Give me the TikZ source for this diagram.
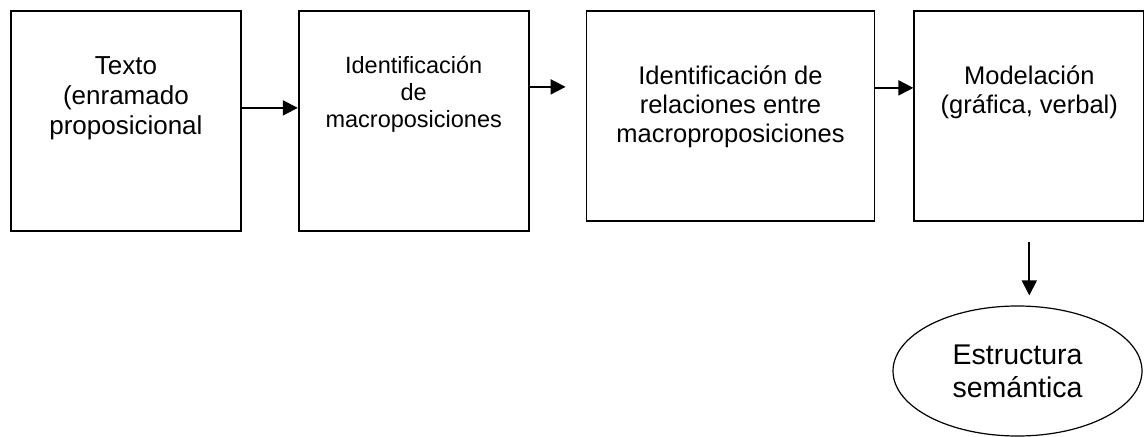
\documentclass[tikz,border=0pt]{standalone}
\usepackage{fontspec}
\setmainfont{Liberation Sans}
\usetikzlibrary{arrows.meta,positioning,shapes.geometric}
\tikzset{
  box/.style={rectangle, draw=black, line width=0.9pt, minimum width=115pt, minimum height=110pt, inner sep=0pt},
  widebox/.style={box, minimum width=144pt, minimum height=105pt},
  boxtext/.style={align=center, inner sep=0pt, anchor=north},
  ellip/.style={ellipse, draw=black, line width=0.6pt, minimum width=124.5pt, minimum height=65pt, align=center, inner sep=0pt},
  arrow/.style={-{Triangle[length=7.5pt,width=7.5pt]}, line width=0.9pt}
}
\begin{document}
\begin{tikzpicture}[x=0.5pt, y=-0.5pt]
\useasboundingbox (0,0) rectangle (1144,437);
\node[box, anchor=north west] (texto) at (10,10) {};
\node[box, right=28pt of texto.north east, anchor=north west] (ident) {};
\node[widebox, right=28pt of ident.north east, anchor=north west] (relac) {};
\node[box, minimum height=105pt, right=19pt of relac.north east, anchor=north west] (model) {};
\node[ellip, font=\fontsize{14.25pt}{16.5pt}\selectfont] (estr) at (1017.5,371) {Estructura\\semántica};
% box texts
\node[boxtext, font=\fontsize{13pt}{15pt}\selectfont, below=23pt of texto.north] (textot) {Texto\\(enramado\\proposicional};
\node[boxtext, font=\fontsize{11.75pt}{13.5pt}\selectfont, below=23pt of ident.north] (identt) {Identificación\\de\\macroposiciones};
\node[boxtext, font=\fontsize{12.75pt}{14.5pt}\selectfont, below=27.5pt of relac.north] (relact) {Identificación de\\relaciones entre\\macroproposiciones};
\node[boxtext, font=\fontsize{12.75pt}{14.5pt}\selectfont, below=27.5pt of model.north] (modelt) {Modelación\\(gráfica, verbal)};
\draw[arrow] ([yshift=6.5pt]texto.east) -- ([yshift=6.5pt]ident.west);
\draw[arrow] ([yshift=17pt]ident.east) -- ([xshift=-10pt,yshift=14.5pt]relac.west);
\draw[arrow] ([yshift=14pt]relac.east) -- ([yshift=14pt]model.west);
\draw[arrow] ([yshift=-10pt]model.south) -- ([yshift=5pt]estr.north -| model.south);
\end{tikzpicture}
\end{document}
